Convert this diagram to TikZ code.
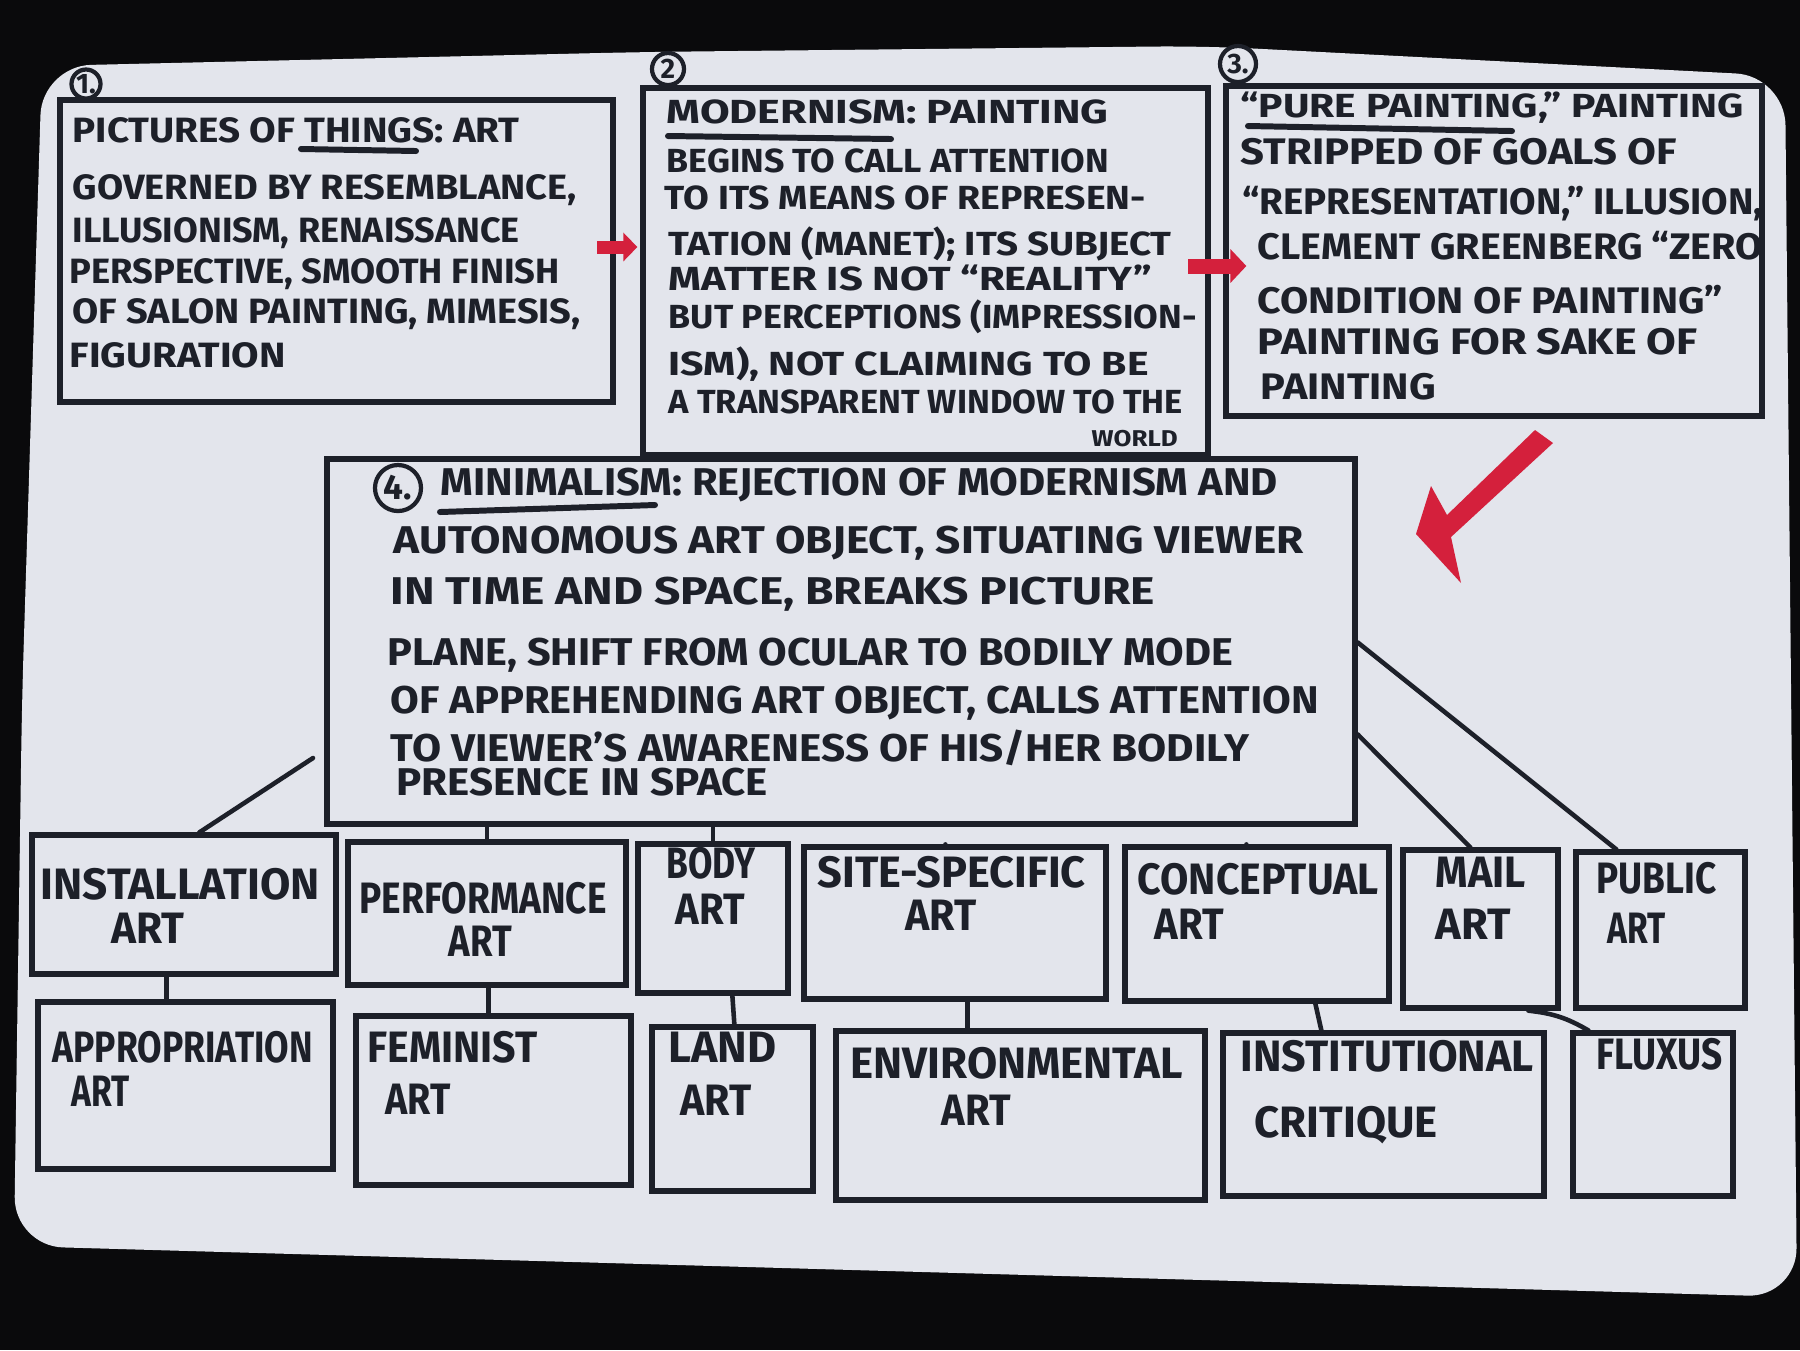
\documentclass[tikz,border=0pt]{standalone}
\usepackage{fontspec}
\setmainfont{Fira Sans}
\usepackage{graphicx}
\usetikzlibrary{arrows.meta,calc}

\definecolor{ink}{HTML}{1D2029}
\definecolor{paper}{HTML}{E3E5EC}
\definecolor{marker}{HTML}{D4203C}
\definecolor{backdrop}{HTML}{0A0A0C}

% one drawing unit = 0.01cm
\newdimen\pxu \pxu=0.01cm
% squeeze a line of lettering to a given width (in drawing units), height kept
\newcommand{\fitw}[2]{\resizebox{#1\pxu}{\height}{#2}}
% a line of lettering: [style]{name}{x}{y}{width}{text}; y is the middle of the capitals
\newcommand{\wline}[6][]{\node[txt,#1,anchor=west] (#2) at (#3,#4) {\fitw{#5}{#6}};}
% a framed panel: {name}{x1}{y1}{x2}{y2}
\newcommand{\boxat}[5]{\node[panel, minimum width={(#4-#2)*0.01cm}, minimum height={(#5-#3)*0.01cm}] (#1) at ({(#2+#4)/2},{(#3+#5)/2}) {};}

\tikzset{
  panel/.style={draw=ink, line width=1.5pt, rectangle, inner sep=0pt},
  txt/.style={inner sep=0pt, text=ink, text depth=0pt,
              font=\bfseries\fontsize{10}{12}\selectfont},
  tA/.style={font=\bfseries\fontsize{10}{12}\selectfont, text height=6.9pt},
  tB/.style={font=\bfseries\fontsize{9.5}{11}\selectfont, text height=6.6pt},
  tC/.style={font=\bfseries\fontsize{10.5}{12}\selectfont, text height=7.2pt},
  tD/.style={font=\bfseries\fontsize{11}{13}\selectfont, text height=7.6pt},
  tE/.style={font=\bfseries\fontsize{12.5}{14}\selectfont, text height=8.6pt},
  tW/.style={font=\bfseries\fontsize{6.5}{8}\selectfont, text height=4.5pt},
  link/.style={draw=ink, line width=1.3pt, line cap=round},
  uline/.style={draw=ink, line width=1.7pt, line cap=round},
  badge/.style={circle, draw=ink, line width=1.2pt, inner sep=0pt, text=ink,
                font=\bfseries\fontsize{8}{9}\selectfont},
  flowA/.style={draw=marker, line width=0.13cm,
                -{Triangle[length=0.14cm,width=0.28cm]}},
  flowB/.style={draw=marker, line width=0.15cm,
                -{Triangle[length=0.16cm,width=0.33cm]}},
}

\begin{document}
\begin{tikzpicture}[x=0.01cm, y=-0.01cm]
  % backdrop and sheet of paper
  \fill[backdrop] (0,0) rectangle (1800,1350);
  \useasboundingbox (0,0) rectangle (1800,1350);
  \fill[paper, rounded corners=14] (42,66) -- (643,52) -- (1205,46) -- (1785,76)
       -- (1797,1297) -- (14,1246) -- (22,700) -- cycle;

  % ---- upper row of panels ----
  \boxat{b1}{60}{100}{613}{402}
  \boxat{b2}{643}{88}{1208}{455}
  \boxat{b3}{1226}{86}{1762}{416}
  \node[badge, minimum size=0.29cm] (n1) at (86,84) {1.};
  \node[badge, minimum size=0.32cm] (n2) at (668,69) {2};
  \node[badge, minimum size=0.36cm] (n3) at (1238,64) {3.};

  \wline[tA]{t1a}{72}{130}{447}{PICTURES OF THINGS: ART}
  \wline[tA]{t1b}{72}{187}{504}{GOVERNED BY RESEMBLANCE,}
  \wline[tA]{t1c}{72}{230}{447}{ILLUSIONISM, RENAISSANCE}
  \wline[tA]{t1d}{69}{271}{490}{PERSPECTIVE, SMOOTH FINISH}
  \wline[tA]{t1e}{72}{311}{508}{OF SALON PAINTING, MIMESIS,}
  \wline[tA]{t1f}{69}{355}{216}{FIGURATION}
  \draw[uline] (301,149) -- (416,151);

  \wline[tB]{t2a}{666}{112}{442}{MODERNISM: PAINTING}
  \wline[tB]{t2b}{666}{161}{442}{BEGINS TO CALL ATTENTION}
  \wline[tB]{t2c}{664}{198}{481}{TO ITS MEANS OF REPRESEN-}
  \wline[tB]{t2d}{668}{244}{503}{TATION (MANET); ITS SUBJECT}
  \wline[tB]{t2e}{668}{279}{483}{MATTER IS NOT “REALITY”}
  \wline[tB]{t2f}{668}{317}{528}{BUT PERCEPTIONS (IMPRESSION-}
  \wline[tB]{t2g}{668}{364}{480}{ISM), NOT CLAIMING TO BE}
  \wline[tB]{t2h}{668}{402}{514}{A TRANSPARENT WINDOW TO THE}
  \wline[tW]{t2i}{1091}{439}{86}{WORLD}
  \draw[uline] (668,136) -- (891,139);

  \wline[tB]{t3a}{1240}{106}{503}{“PURE PAINTING,” PAINTING}
  \wline[tC]{t3b}{1240}{152}{436}{STRIPPED OF GOALS OF}
  \wline[tC]{t3c}{1242}{202}{520}{“REPRESENTATION,” ILLUSION,}
  \wline[tC]{t3d}{1257}{247}{505}{CLEMENT GREENBERG “ZERO}
  \wline[tC]{t3e}{1257}{301}{465}{CONDITION OF PAINTING”}
  \wline[tC]{t3f}{1257}{342}{440}{PAINTING FOR SAKE OF}
  \wline[tC]{t3g}{1260}{387}{175}{PAINTING}
  \draw[uline] (1248,126) -- (1512,131);

  % red arrows between the three panels
  \coordinate (r1) at (597,247);
  \draw[flowA, shorten >=0.03cm] (r1) -- (r1 -| b2.west);
  \coordinate (r2) at (1188,266);
  \draw[flowB] (r2) -- ($(r2 -| b3.west)+(23,0)$);

  % large red arrow pointing down to panel 4
  \fill[marker] (1535,430) -- (1447,515) -- (1431,486) -- (1416,534)
       -- (1461,583) -- (1451,537) -- (1553,443) -- cycle;

  % ---- panel 4 ----
  \boxat{b4}{327}{459}{1355}{824}
  \node[badge, minimum size=0.46cm, font=\bfseries\fontsize{10}{11}\selectfont] (n4) at (398,488) {4.};
  \wline[tD]{t4a}{440}{482}{837}{MINIMALISM: REJECTION OF MODERNISM AND}
  \wline[tD]{t4b}{393}{540}{910}{AUTONOMOUS ART OBJECT, SITUATING VIEWER}
  \wline[tD]{t4c}{390}{591}{764}{IN TIME AND SPACE, BREAKS PICTURE}
  \wline[tD]{t4d}{387}{652}{845}{PLANE, SHIFT FROM OCULAR TO BODILY MODE}
  \wline[tD]{t4e}{390}{700}{928}{OF APPREHENDING ART OBJECT, CALLS ATTENTION}
  \wline[tD]{t4f}{390}{748}{859}{TO VIEWER’S AWARENESS OF HIS/HER BODILY}
  \wline[tD]{t4g}{396}{782}{371}{PRESENCE IN SPACE}
  \draw[uline] (440,512) -- (655,505);

  % ---- movements, first row ----
  \boxat{in}{32}{835}{336}{974}
  \boxat{pf}{348}{842}{626}{985}
  \boxat{bd}{638}{844}{788}{993}
  \boxat{ss}{804}{847}{1106}{999}
  \boxat{cp}{1125}{847}{1389}{1001}
  \boxat{ml}{1403}{850}{1558}{1008}
  \boxat{pb}{1576}{852}{1745}{1008}

  \wline[tE]{l1a}{40}{884}{279}{INSTALLATION}
  \wline[tE]{l1b}{111}{928}{73}{ART}
  \wline[tE]{l2a}{359}{898}{247}{PERFORMANCE}
  \wline[tE]{l2b}{448}{941}{63}{ART}
  \wline[tE]{l3a}{666}{863}{89}{BODY}
  \wline[tE]{l3b}{675}{909}{69}{ART}
  \wline[tE]{l4a}{817}{872}{268}{SITE-SPECIFIC}
  \wline[tE]{l4b}{905}{915}{71}{ART}
  \wline[tE]{l5a}{1137}{879}{241}{CONCEPTUAL}
  \wline[tE]{l5b}{1154}{924}{69}{ART}
  \wline[tE]{l6a}{1435}{872}{90}{MAIL}
  \wline[tE]{l6b}{1435}{924}{75}{ART}
  \wline[tE]{l7a}{1596}{878}{120}{PUBLIC}
  \wline[tE]{l7b}{1607}{928}{58}{ART}

  % ---- movements, second row ----
  \boxat{ap}{38}{1002}{333}{1169}
  \boxat{fm}{356}{1016}{631}{1185}
  \boxat{ld}{652}{1027}{813}{1191}
  \boxat{ev}{836}{1031}{1205}{1200}
  \boxat{ic}{1223}{1033}{1544}{1196}
  \boxat{fx}{1573}{1033}{1733}{1196}

  \wline[tE]{m1a}{52}{1047}{260}{APPROPRIATION}
  \wline[tE]{m1b}{71}{1091}{58}{ART}
  \wline[tE]{m2a}{367}{1047}{170}{FEMINIST}
  \wline[tE]{m2b}{385}{1099}{65}{ART}
  \wline[tE]{m3a}{668}{1047}{108}{LAND}
  \wline[tE]{m3b}{680}{1100}{71}{ART}
  \wline[tE]{m4a}{850}{1063}{332}{ENVIRONMENTAL}
  \wline[tE]{m4b}{941}{1110}{69}{ART}
  \wline[tE]{m5a}{1240}{1056}{293}{INSTITUTIONAL}
  \wline[tE]{m5b}{1254}{1122}{183}{CRITIQUE}
  \wline[tE]{m6a}{1596}{1054}{126}{FLUXUS}

  % ---- links from panel 4 ----
  \coordinate (c4in) at (313,758);
  \draw[link] (c4in) -- ($(in.north west)+(170,0)$);
  \draw[link] (pf.north |- b4.south) -- (pf.north);
  \draw[link] (bd.north |- b4.south) -- (bd.north);
  \draw[link] ($(ss.north west)+(144,0)$ |- b4.south) -- ($(ss.north west)+(144,0)$);
  \draw[link] ($(cp.north west)+(124,0)$ |- b4.south) -- ($(cp.north west)+(124,0)$);
  \draw[link] ($(b4.north east)+(0,278)$) -- ($(ml.north west)+(70,0)$);
  \draw[link] ($(b4.north east)+(0,186)$) -- ($(pb.north west)+(43,0)$);

  % ---- links between the two rows ----
  \draw[link] ($(in.south west)+(137,0)$) -- ($(ap.north west)+(131,0)$);
  \draw[link] ($(pf.south west)+(143,0)$) -- ($(fm.north west)+(135,0)$);
  \draw[link] ($(bd.south west)+(97,0)$) -- ($(ld.north west)+(85,0)$);
  \draw[link] ($(ss.south west)+(166,0)$) -- ($(ev.north west)+(134,0)$);
  \draw[link] ($(cp.south west)+(193,0)$) -- ($(ic.north west)+(101,0)$);
  \draw[link] ($(ml.south west)+(128,0)$) to[bend left=12] ($(fx.north west)+(18,0)$);
\end{tikzpicture}
\end{document}
